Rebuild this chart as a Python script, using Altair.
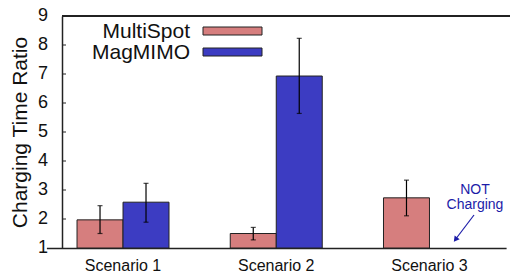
import altair as alt
import pandas as pd

# ---- data ----
scenarios = ["Scenario 1", "Scenario 2", "Scenario 3"]
series = ["MultiSpot", "MagMIMO"]
multispot = [1.97, 1.50, 2.73]
multispot_lo = [1.50, 1.28, 2.11]
multispot_hi = [2.46, 1.71, 3.34]
magmimo = [2.58, 6.93, None]
magmimo_lo = [1.89, 5.64, None]
magmimo_hi = [3.23, 8.23, None]
y_ticks = [1, 2, 3, 4, 5, 6, 7, 8, 9]
inner_ticks = [2, 3, 4, 5, 6, 7, 8]
colors = ["#d67e7e", "#3c3cc2"]
note_lines = ["NOT", "Charging"]
note_y = [3.0, 2.47]

rows = []
for i, sc in enumerate(scenarios):
    for name, vals, lo, hi in [("MultiSpot", multispot, multispot_lo, multispot_hi),
                               ("MagMIMO", magmimo, magmimo_lo, magmimo_hi)]:
        if vals[i] is not None:
            rows.append({"scenario": sc, "series": name, "value": vals[i],
                         "lo": lo[i], "hi": hi[i]})
df = pd.DataFrame(rows)

FONT = "Liberation Sans"
W, H = 448, 232

y_axis = alt.Axis(values=y_ticks, title="Charging Time Ratio",
                  titleFontSize=21, titleFont=FONT, titleFontWeight="normal",
                  titleColor="#111", titleAngle=270, titleAlign="center",
                  titleBaseline="alphabetic", titleX=-36, titleY=H / 2,
                  labels=False, ticks=False, grid=False,
                  domainColor="#222", domainWidth=1.5)

x_enc = alt.X("scenario:N",
              scale=alt.Scale(domain=scenarios, range=[-15.6, 444.1],
                              paddingInner=0, paddingOuter=0),
              axis=alt.Axis(title=None, labelAngle=0, ticks=False,
                            labelFontSize=16, labelFont=FONT, labelColor="#111",
                            labelPadding=9, domainColor="#222", domainWidth=1.5))
xo_enc = alt.XOffset("series:N",
                     scale=alt.Scale(domain=series, paddingOuter=0.666, paddingInner=0))
y_scale = alt.Scale(domain=[1, 9], zero=False, nice=False)

base = alt.Chart(df)

bars = base.mark_bar(stroke="#222", strokeWidth=1).encode(
    x=x_enc, xOffset=xo_enc,
    y=alt.Y("value:Q", scale=y_scale, axis=y_axis),
    y2=alt.datum(1),
    fill=alt.Fill("series:N", scale=alt.Scale(domain=series, range=colors), legend=None),
)

err = base.mark_rule(color="#000", strokeWidth=1.2).encode(
    x=x_enc, xOffset=xo_enc,
    y=alt.Y("lo:Q", scale=y_scale, axis=y_axis), y2="hi:Q")
cap_hi = base.mark_tick(color="#000", size=5, thickness=1.2).encode(
    x=x_enc, xOffset=xo_enc, y=alt.Y("hi:Q", scale=y_scale, axis=y_axis))
cap_lo = base.mark_tick(color="#000", size=5, thickness=1.2).encode(
    x=x_enc, xOffset=xo_enc, y=alt.Y("lo:Q", scale=y_scale, axis=y_axis))

tick_df = pd.DataFrame({"t": inner_ticks})
ticks = alt.Chart(tick_df).mark_rule(color="#222", strokeWidth=1).encode(
    x=alt.value(0), x2=alt.value(4), y=alt.Y("t:Q", scale=y_scale, axis=y_axis))

label_df = pd.DataFrame({"v": y_ticks})
tick_labels = alt.Chart(label_df).mark_text(align="right", baseline="middle",
                                            fontSize=18, font=FONT, color="#111").encode(
    x=alt.value(-14), y=alt.Y("v:Q", scale=y_scale, axis=y_axis), text="v:Q")

top_border = alt.Chart(tick_df).mark_rule(color="#222", strokeWidth=1.5).encode(
    x=alt.value(0), x2=alt.value(W), y=alt.datum(9))

# legend (label to the left of a wide swatch, as in the reference)
legend_layers = []
for i, name in enumerate(series):
    ldf = pd.DataFrame({"label": [name]})
    legend_layers.append(
        alt.Chart(ldf).mark_text(align="right", baseline="middle", fontSize=21,
                                 font=FONT, color="#111").encode(
            x=alt.value(128), y=alt.value(15.5 + 21 * i), text="label:N"))
    legend_layers.append(
        alt.Chart(ldf).mark_rect(fill=colors[i], stroke="#222", strokeWidth=1).encode(
            x=alt.value(141), x2=alt.value(200),
            y=alt.value(11 + 21 * i), y2=alt.value(19 + 21 * i)))

# annotation
note_df = pd.DataFrame({"line": note_lines, "ny": note_y})
note = alt.Chart(note_df).mark_text(fontSize=14, font=FONT, color="#1c1ca8",
                                    align="center", baseline="middle").encode(
    x=alt.value(413), y=alt.Y("ny:Q", scale=y_scale, axis=y_axis), text="line:N")
arrow = alt.Chart(note_df.head(1)).mark_rule(color="#1c1ca8", strokeWidth=1.2).encode(
    x=alt.value(412), x2=alt.value(393), y=alt.value(199), y2=alt.value(224))
head = alt.Chart(note_df.head(1)).mark_point(shape="triangle-up", filled=True,
                                             color="#1c1ca8", size=40, opacity=1,
                                             angle=217).encode(
    x=alt.value(393.5), y=alt.value(223.5))

chart = alt.layer(bars, err, cap_hi, cap_lo, ticks, tick_labels, top_border,
                  *legend_layers, note, arrow, head).properties(
    width=W, height=H,
    autosize=alt.AutoSizeParams(type="none"),
    padding={"left": 54, "top": 8, "right": 0, "bottom": 24},
).configure_view(strokeWidth=0)

chart.save("out.html", embed_options={"renderer": "svg", "actions": False})
